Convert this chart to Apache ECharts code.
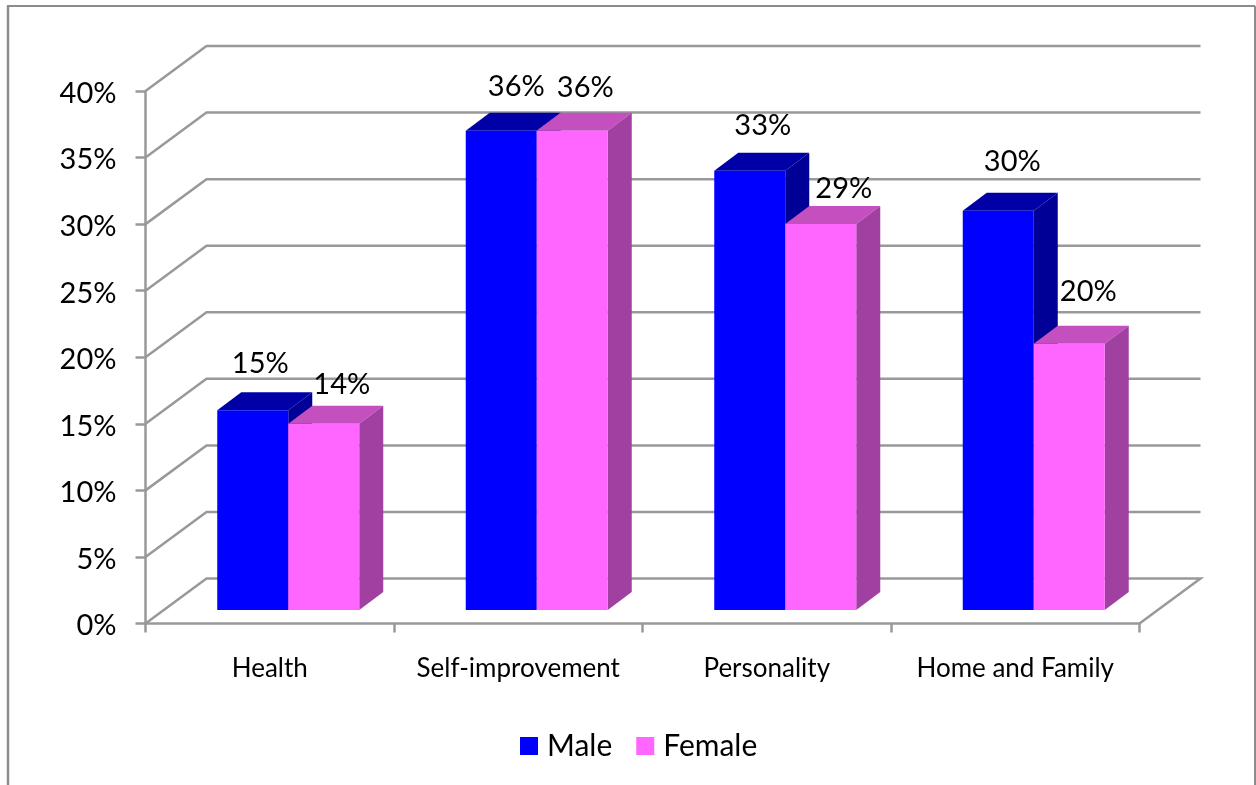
<!DOCTYPE html>
<html><head><meta charset="utf-8">
<style>html,body{margin:0;padding:0;background:#fff}#c{width:1256px;height:785px}</style>
<script src="https://cdn.jsdelivr.net/npm/echarts@6/dist/echarts.min.js"></script>
</head><body><div id="c"></div>
<script>
const categories = ['Health','Self-improvement','Personality','Home and Family'];
const male = [15,36,33,30];
const female = [14,36,29,20];
const ticks = [0,5,10,15,20,25,30,35,40];

// Layout constants, not data
const FONT = 'Lato, Carlito, sans-serif';
const WALL = [61,-45], BAR_DEPTH = [24,-18], BAR_SHIFT = [18.5,-13.5], BAR_W = 71;
const GRID_C = '#999999';
const maleNudge = [[7.5,-47],[15,-44],[13,-45],[14,-49]];
const femaleNudge = [[18,-39],[13,-43],[23,-35],[19,-52]];

function wallItem(params, api){
  const v = api.value(0), p = api.coord([0,v]), r = params.coordSys;
  const y = p[1], x0 = r.x, x1 = r.x + r.width;
  const pts = [[x0,y],[x0+WALL[0],y+WALL[1]],[x1+WALL[0],y+WALL[1]]];
  if (v === 0) pts.push([x1,y]);
  return {type:'polyline',shape:{points:pts},style:{fill:null,stroke:GRID_C,lineWidth:2.5}};
}
function barRenderer(side, front, top, dark, nudge){
  return function(params, api){
    const i = api.value(0), v = api.value(1);
    const c = api.coord([i,v]), b = api.coord([i,0]);
    const mid = c[0] + BAR_SHIFT[0];
    const xa = side < 0 ? mid - BAR_W : mid, xb = xa + BAR_W;
    const yt = c[1] + BAR_SHIFT[1], yb = b[1] + BAR_SHIFT[1];
    const dx = BAR_DEPTH[0], dy = BAR_DEPTH[1];
    const n = nudge[i];
    return {type:'group',children:[
      {type:'polygon',shape:{points:[[xa,yt],[xa+dx,yt+dy],[xb+dx,yt+dy],[xb,yt]]},style:{fill:top}},
      {type:'polygon',shape:{points:[[xb,yt],[xb+dx,yt+dy],[xb+dx,yb+dy],[xb,yb]]},style:{fill:dark}},
      {type:'rect',shape:{x:xa,y:yt,width:BAR_W,height:yb-yt},style:{fill:front}},
      {type:'text',z2:50,style:{text:v+'%',x:(xa+xb)/2+n[0],y:yt+n[1],align:'center',verticalAlign:'middle',
        fill:'#000',font:'29px '+FONT}}
    ]};
  };
}
const chart = echarts.init(document.getElementById('c'),null,{renderer:'canvas'});
chart.setOption({
  animation:false,
  backgroundColor:'#fff',
  graphic:[
    {type:'line',shape:{x1:8,y1:785,x2:8,y2:6},style:{stroke:'#8c8c8c',lineWidth:2.5}},
    {type:'line',shape:{x1:7,y1:6,x2:1255,y2:6},style:{stroke:'#8c8c8c',lineWidth:2}},
    {type:'line',shape:{x1:1255,y1:6,x2:1255,y2:785},style:{stroke:'#8c8c8c',lineWidth:2}}
  ],
  grid:{left:145.5,right:116.5,top:91,bottom:161.5,containLabel:false},
  legend:{data:['Male','Female'],left:515,top:726,itemWidth:18,itemHeight:18,itemGap:24,icon:'rect',
    textStyle:{fontFamily:FONT,fontSize:30,color:'#000',padding:[0,0,0,4]}},
  xAxis:{type:'category',data:categories,boundaryGap:true,
    axisLine:{lineStyle:{color:GRID_C,width:2.5}},
    axisTick:{show:true,alignWithLabel:false,length:9,lineStyle:{color:GRID_C,width:2.5}},
    axisLabel:{fontFamily:FONT,fontSize:26,color:'#000',margin:32,interval:0}},
  yAxis:{type:'value',min:0,max:40,interval:5,
    axisLine:{show:true,lineStyle:{color:GRID_C,width:2.5}},
    axisTick:{show:true,length:10,lineStyle:{color:GRID_C,width:2.5}},
    splitLine:{show:false},
    axisLabel:{fontFamily:FONT,fontSize:29,color:'#000',margin:29,verticalAlign:'top',padding:[-12,0,0,0],formatter:'{value}%'}},
  series:[
    {type:'custom',name:'walls',silent:true,clip:false,z:1,data:ticks.map(v=>[v]),encode:{y:0},renderItem:wallItem},
    {type:'custom',name:'Male',z:2,clip:false,itemStyle:{color:'#0000FF'},
      data:male.map((v,i)=>[i,v]),encode:{x:0,y:1},
      renderItem:barRenderer(-1,'#0000FF','#0000A6','#000096',maleNudge)},
    {type:'custom',name:'Female',z:3,clip:false,itemStyle:{color:'#FF66FF'},
      data:female.map((v,i)=>[i,v]),encode:{x:0,y:1},
      renderItem:barRenderer(1,'#FF66FF','#C44FBF','#A040A0',femaleNudge)}
  ]
});
</script></body></html>
